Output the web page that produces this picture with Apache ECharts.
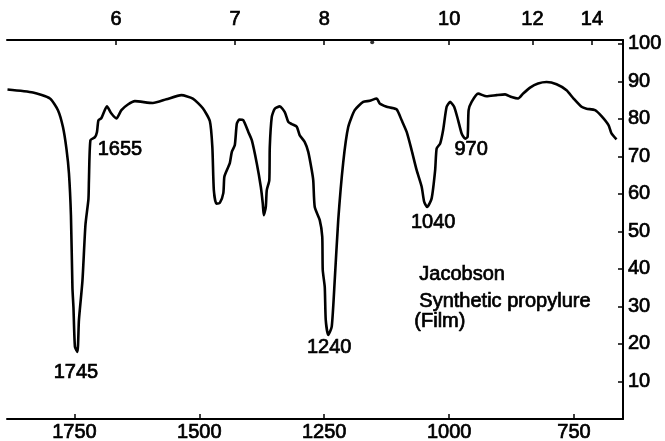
<!DOCTYPE html>
<html>
<head>
<meta charset="utf-8">
<script src="https://cdn.jsdelivr.net/npm/echarts@6/dist/echarts.min.js"></script>
<style>html,body{margin:0;padding:0;background:#fff}#c{width:665px;height:441px}</style>
</head>
<body>
<div id="c"></div>
<script>
// Wavenumber (cm^-1) and % transmittance
const wavenumbers = [1884,1833,1799,1783,1773,1766,1761,1757,1754,1752,
  1749,1744,1741,1734,1728,1722,1721,1718,1709,1705,
  1702,1696,1685,1676,1666,1656,1643,1629,1593,1566,
  1536,1513,1493,1479,1474,1471,1466,1459,1452,1450,
  1445,1439,1435,1429,1425,1420,1412,1402,1395,1385,
  1377,1373,1371,1367,1365,1360,1359,1355,1349,1339,
  1329,1322,1315,1305,1299,1289,1282,1275,1272,1269,
  1259,1254,1253,1249,1247,1242,1235,1229,1222,1212,
  1202,1189,1172,1159,1145,1139,1125,1118,1105,1095,
  1085,1075,1065,1055,1050,1044,1035,1028,1025,1018,
  1012,1005,998,990,982,975,968,963,961,955,
  942,925,905,888,875,862,852,838,822,805,
  785,765,751,735,725,708,695,681,675,665];
const transmittance = [87.8,87.0,85.4,82.3,77.8,72.0,65.5,54.2,34.9,29.8,
  19.2,17.9,26.4,36.8,51.7,58.6,63.6,74.3,75.1,76.4,
  79.6,80.2,83.3,81.4,80.1,82.3,83.8,84.7,84.2,85.2,
  86.3,85.4,82.8,79.4,72.5,61.0,57.4,57.6,60.2,64.5,
  66.3,68.2,71.2,73.0,78.7,79.8,79.6,76.5,74.3,68.1,
  61.9,57.4,54.3,56.5,61.0,63.6,72.5,80.5,82.7,83.3,
  81.8,79.2,78.6,77.9,75.6,73.8,71.2,66.3,63.6,56.5,
  53.0,48.6,39.7,35.2,26.4,22.4,24.6,37.0,53.0,68.4,
  77.8,82.3,84.5,84.8,85.4,84.1,83.2,83.0,82.5,79.6,
  76.5,71.6,66.3,61.9,57.9,56.5,58.8,66.3,72.1,73.4,
  77.0,83.2,84.5,83.2,79.6,76.1,74.7,75.2,82.3,84.5,
  86.7,86.0,86.3,86.5,85.8,85.4,86.7,88.3,89.4,89.8,
  89.2,87.6,85.4,83.2,82.7,82.3,80.7,78.3,76.1,74.5];

const bottomTicks = [1750, 1500, 1250, 1000, 750];
const micronTicks = [6, 7, 8, 10, 12, 14];
const rightTicks = [10, 20, 30, 40, 50, 60, 70, 80, 90, 100];
const peakNames = ['1745', '1655', '1240', '1040', '970'];
const peakWavenumbers = [1745, 1655, 1240, 1040, 970];
const strayDot = [[1154, 100.4]];
const noteLines = ['Jacobson', 'Synthetic propylure', '(Film)'];

const FONT = '"Liberation Sans", Arial, sans-serif';
const FS = 20;
const THICK = { textBorderColor: '#000', textBorderWidth: 0.7 };

const specData = wavenumbers.map((w, i) => [w, transmittance[i]]);
function nearestT(w) {
  let best = 0, bd = Infinity;
  wavenumbers.forEach((v, i) => { const d = Math.abs(v - w); if (d < bd) { bd = d; best = i; } });
  return transmittance[best];
}
const peakOffsets = [[-1, 21], [-2, 39], [0, 13], [4, 15], [7, 11]];
const markData = peakNames.map((n, i) => ({
  name: n,
  coord: [peakWavenumbers[i], nearestT(peakWavenumbers[i])],
  label: { offset: peakOffsets[i] }
}));

const micronValues = micronTicks.map(m => 10000 / m);

const chart = echarts.init(document.getElementById('c'), null, { renderer: 'canvas' });
const axisCommon = {
  type: 'value', min: 652, max: 1885, inverse: true,
  splitLine: { show: false },
  axisLine: { show: true, onZero: false, lineStyle: { color: '#000', width: 2 } }
};
const labelCommon = Object.assign({ color: '#000', fontSize: FS, fontFamily: FONT }, THICK);
chart.setOption({
  animation: false,
  backgroundColor: '#fff',
  grid: { left: 7, right: 42, top: 40, bottom: 22, containLabel: false, outerBoundsMode: 'none' },
  xAxis: [
    Object.assign({}, axisCommon, {
      position: 'bottom',
      axisTick: { show: true, inside: true, length: 5, customValues: bottomTicks, lineStyle: { color: '#000', width: 1.5 } },
      axisLabel: Object.assign({}, labelCommon, { customValues: bottomTicks, margin: 3,
        formatter: v => String(v) })
    }),
    Object.assign({}, axisCommon, {
      position: 'top',
      axisTick: { show: true, inside: true, length: 5, customValues: micronValues, lineStyle: { color: '#000', width: 1.5 } },
      axisLabel: Object.assign({}, labelCommon, { customValues: micronValues, margin: 11,
        formatter: v => String(Math.round(10000 / v)) })
    })
  ],
  yAxis: {
    type: 'value', position: 'right', min: 0, max: 101,
    splitLine: { show: false },
    axisLine: { show: true, onZero: false, lineStyle: { color: '#000', width: 2 } },
    axisTick: { show: true, inside: true, length: 5, customValues: rightTicks, lineStyle: { color: '#000', width: 1.5 } },
    axisLabel: Object.assign({}, labelCommon, { customValues: rightTicks, margin: 5 })
  },
  series: [
    {
      type: 'line', xAxisIndex: 0, yAxisIndex: 0, data: specData,
      showSymbol: false, smooth: 0.2,
      lineStyle: { color: '#000', width: 2.6 },
      markPoint: {
        symbol: 'circle', symbolSize: 1,
        itemStyle: { color: 'rgba(0,0,0,0)' },
        label: Object.assign({}, labelCommon, { show: true, position: 'inside', formatter: '{b}' }),
        data: markData
      }
    },
    {
      type: 'scatter', xAxisIndex: 0, yAxisIndex: 0, data: strayDot,
      symbolSize: 4, itemStyle: { color: '#000' }
    }
  ],
  graphic: [
    { type: 'text', left: 419, top: 264, style: Object.assign({ text: noteLines[0], fill: '#000', font: FS + 'px ' + FONT, stroke: '#000', lineWidth: 0.7 }) },
    { type: 'text', left: 419, top: 291, style: Object.assign({ text: noteLines[1], fill: '#000', font: FS + 'px ' + FONT, stroke: '#000', lineWidth: 0.7 }) },
    { type: 'text', left: 414, top: 311, style: Object.assign({ text: noteLines[2], fill: '#000', font: FS + 'px ' + FONT, stroke: '#000', lineWidth: 0.7 }) }
  ]
});
</script>
</body>
</html>
